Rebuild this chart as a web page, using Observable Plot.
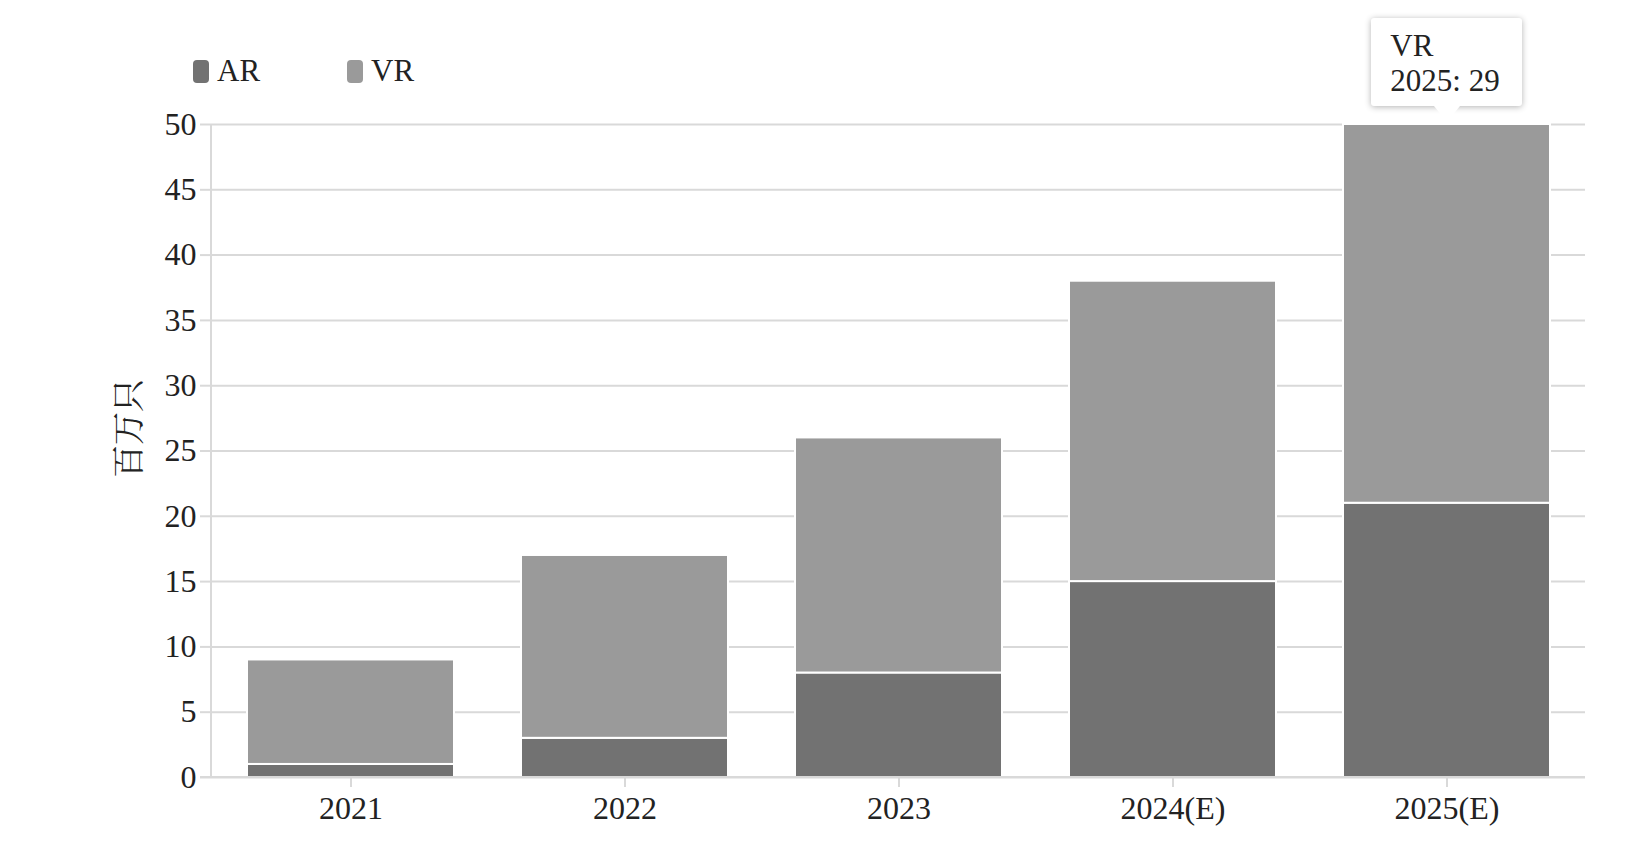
<!DOCTYPE html>
<html>
<head>
<meta charset="utf-8">
<script src="https://cdn.jsdelivr.net/npm/d3@7"></script>
<script src="https://cdn.jsdelivr.net/npm/@observablehq/plot@0.6"></script>
<style>
  html, body { margin: 0; padding: 0; background: #fff; }
  #wrap { position: relative; width: 1651px; height: 843px; font-family: "Liberation Serif", "Times New Roman", serif; }
  #legend { height: 100px; position: relative; }
  .lg { position: absolute; top: 53px; display: flex; align-items: center; font-size: 31px; color: #222; }
  .sw { width: 16px; height: 23px; border-radius: 4px; margin-right: 8px; }
  #tip { position: absolute; background: #fff; box-shadow: 0 1px 6px rgba(0,0,0,0.3); border-radius: 3px;
         padding: 10px 22px 8px 19px; font-size: 31px; line-height: 35px; color: #222; white-space: nowrap; }
  #tip::after { content: ""; position: absolute; left: 50%; bottom: -16px; margin-left: -13px;
         border-left: 13px solid transparent; border-right: 13px solid transparent; border-top: 16px solid #fff; }
</style>
</head>
<body>
<div id="wrap">
  <div id="legend"></div>
  <div id="chart"></div>
</div>
<script>
const years = ["2021", "2022", "2023", "2024(E)", "2025(E)"];
const arValues = [1, 3, 8, 15, 21];
const vrValues = [8, 14, 18, 23, 29];
const seriesNames = ["AR", "VR"];
const seriesColors = ["#727272", "#9a9a9a"];
const yTicks = [0, 5, 10, 15, 20, 25, 30, 35, 40, 45, 50];
const yLabel = "百万只";
const tipSeries = "VR";
const tipYearIndex = 4;
const tipLabel = "2025";

const data = [];
years.forEach((y, i) => {
  data.push({year: y, series: "AR", value: arValues[i]});
  data.push({year: y, series: "VR", value: vrValues[i]});
});

const gridColor = "#d9d9d9";
const chart = Plot.plot({
  width: 1651,
  height: 743,
  marginTop: 24,
  marginBottom: 66,
  marginLeft: 211,
  marginRight: 66,
  style: {fontFamily: "'Liberation Serif', 'Times New Roman', serif", fontSize: "32px", color: "#222", background: "transparent"},
  x: {domain: years, paddingInner: 0.245, paddingOuter: 0.126, label: null},
  y: {domain: [0, 50], ticks: yTicks, label: null},
  color: {domain: seriesNames, range: seriesColors},
  marks: [
    Plot.gridY(yTicks, {stroke: gridColor, strokeOpacity: 1, strokeWidth: 2}),
    Plot.barY(data, Plot.stackY({x: "year", y: "value", fill: "series", order: seriesNames, stroke: "#fff", strokeWidth: 2})),
    Plot.axisY(yTicks, {tickSize: 11, tickPadding: 4, stroke: gridColor, strokeWidth: 2, fontSize: 32, fill: "#222", label: null}),
    Plot.axisX({tickSize: 10, tickPadding: 9, stroke: gridColor, strokeWidth: 2, fontSize: 32, fill: "#222", label: null})
  ]
});
document.getElementById("chart").appendChild(chart);

const xs = chart.scale("x");
const ys = chart.scale("y");
const svg = d3.select(chart);
const x0 = xs.range[0], x1 = xs.range[1];
// left axis line and bottom baseline
svg.append("line").attr("x1", x0).attr("x2", x0).attr("y1", ys.apply(50)).attr("y2", ys.apply(0))
  .attr("stroke", gridColor).attr("stroke-width", 2);
svg.append("line").attr("x1", x0 - 11).attr("x2", x1).attr("y1", ys.apply(0)).attr("y2", ys.apply(0))
  .attr("stroke", gridColor).attr("stroke-width", 2);
// y axis title
const midY = (ys.apply(0) + ys.apply(50)) / 2 - 22;
svg.append("text").attr("transform", `translate(140,${midY}) rotate(-90)`).attr("text-anchor", "middle")
  .attr("font-family", "'Noto Serif CJK SC', 'Noto Sans CJK SC', serif").attr("font-size", 33).attr("fill", "#222").text(yLabel);

// legend
const legend = document.getElementById("legend");
seriesNames.forEach((s, i) => {
  const d = document.createElement("div");
  d.className = "lg";
  d.style.left = (193 + i * 154) + "px";
  d.innerHTML = `<div class="sw" style="background:${seriesColors[i]}"></div><span>${s}</span>`;
  legend.appendChild(d);
});

// tooltip
const tipX = xs.apply(years[tipYearIndex]) + xs.bandwidth / 2;
const tipTop = arValues[tipYearIndex] + vrValues[tipYearIndex];
const tipY = ys.apply(tipTop) + 100;
const tip = document.createElement("div");
tip.id = "tip";
tip.innerHTML = `${tipSeries}<br>${tipLabel}: ${vrValues[tipYearIndex]}`;
document.getElementById("wrap").appendChild(tip);
const r = tip.getBoundingClientRect();
tip.style.left = (tipX - r.width / 2) + "px";
tip.style.top = (tipY - 18 - r.height) + "px";
</script>
</body>
</html>
